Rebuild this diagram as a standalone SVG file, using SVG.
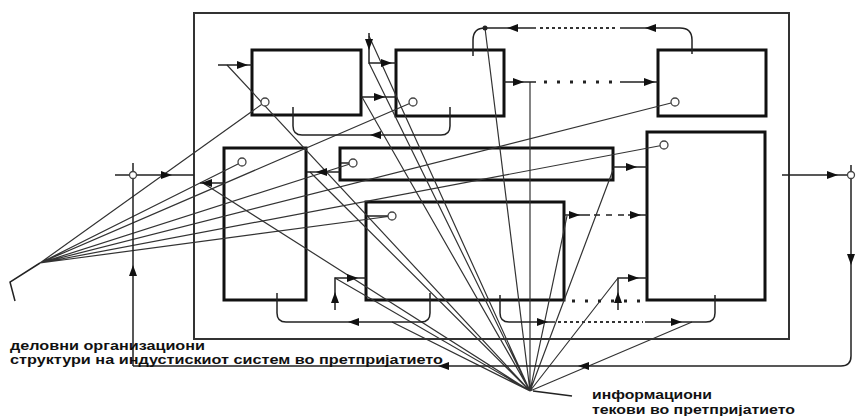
<svg xmlns="http://www.w3.org/2000/svg" xmlns:xlink="http://www.w3.org/1999/xlink" width="859" height="416" viewBox="0 0 859 416">
<style>
.bx{fill:none;stroke:#111;stroke-width:3}
.fr{fill:none;stroke:#333;stroke-width:2}
.ln{fill:none;stroke:#222;stroke-width:1.5}
.fan{fill:none;stroke:#333;stroke-width:1.2}
.dot{fill:none;stroke:#222;stroke-width:3;stroke-dasharray:3 10}
.fdot{fill:none;stroke:#333;stroke-width:2;stroke-dasharray:3 3}
.dsh{fill:none;stroke:#222;stroke-width:1.5;stroke-dasharray:6 6}
.c{fill:#fff;stroke:#444;stroke-width:1.3}
.ah{fill:#111}
text{font-family:"Liberation Sans",Arial,sans-serif;font-weight:bold;font-size:13.5px;fill:#111}
.sm{font-size:12px}
</style>
<defs>
<path id="ah" class="ah" d="M0 0 L-11 -4 L-11 4 Z"/>
</defs>
<rect width="859" height="416" fill="#fff"/>
<g id="frame"><rect class="fr" x="194" y="13" width="595" height="326"/></g>
<g id="boxA"><rect class="bx" x="252" y="50" width="109" height="65"/></g>
<g id="boxB"><rect class="bx" x="396" y="50" width="108" height="66"/></g>
<g id="boxC"><rect class="bx" x="658" y="50" width="108" height="66"/></g>
<g id="boxD"><rect class="bx" x="224" y="148" width="82" height="152"/></g>
<g id="boxE"><rect class="bx" x="340" y="148" width="273" height="32"/></g>
<g id="boxF"><rect class="bx" x="366" y="202" width="198" height="98"/></g>
<g id="boxG"><rect class="bx" x="647" y="132" width="118" height="168"/></g>
<g id="connectors">
<!-- fan of organisational structures -->
<path class="fan" d="M40 263 L265 102 M40 263 L242 162 M40 263 L413 102 M40 263 L353 163 M40 263 L675 102 M40 263 L664 145 M40 263 L392 216"/>
<path class="ln" d="M40 263 L10 282 L15 301"/>
<!-- fan of information flows -->
<path class="fan" d="M530 391 L227 65 M530 391 L203 183 M530 391 L310 172 M530 391 L369 36 M530 391 L369 63 M530 391 L362 97 M530 391 L335 278 M530 391 L392 322 M530 391 L485 28 M530 391 L530 82 M530 391 L567 216 M530 391 L613 170 M530 391 L618 278 M530 391 L692 322"/>
<path class="ln" d="M533 391 L572 396"/>
<!-- input / output -->
<path class="ln" d="M115 175 H194 M133 163 V366 M782 175 H847 M851 165 V356 Q851 366 841 366 H133"/>
<use xlink:href="#ah" transform="translate(172 175)"/>
<use xlink:href="#ah" transform="translate(838 175)"/>
<use xlink:href="#ah" transform="translate(851 265) rotate(90)"/>
<use xlink:href="#ah" transform="translate(438 366) rotate(180)"/>
<use xlink:href="#ah" transform="translate(578 366) rotate(180)"/>
<use xlink:href="#ah" transform="translate(133 265) rotate(-90)"/>
<!-- top row -->
<path class="ln" d="M218 65 H252"/>
<use xlink:href="#ah" transform="translate(248 65)"/>
<path class="ln" d="M369 33 V63 H396"/>
<use xlink:href="#ah" transform="translate(369 50) rotate(90)"/>
<use xlink:href="#ah" transform="translate(392 63)"/>
<path class="ln" d="M361 97 H396"/>
<use xlink:href="#ah" transform="translate(385 97)"/>
<path class="ln" d="M504 82 H536 M620 82 H658"/>
<path class="dot" d="M544 82 H616"/>
<use xlink:href="#ah" transform="translate(524 82)"/>
<use xlink:href="#ah" transform="translate(655 82)"/>
<path class="ln" d="M473 56 V40 Q473 28 485 28 H536 M620 28 H680 Q692 28 692 40 V54"/>
<path class="fdot" d="M540 28 H618"/>
<use xlink:href="#ah" transform="translate(507 28) rotate(180)"/>
<use xlink:href="#ah" transform="translate(645 28) rotate(180)"/>
<circle cx="485" cy="28" r="2.5" fill="#222"/>
<path class="ln" d="M450 107 V126 Q450 135 441 135 H302 Q293 135 293 126 V107"/>
<use xlink:href="#ah" transform="translate(370 135) rotate(180)"/>
<!-- middle -->
<path class="ln" d="M224 183 H200"/>
<use xlink:href="#ah" transform="translate(201 183) rotate(180)"/>
<path class="ln" d="M340 172 H307"/>
<use xlink:href="#ah" transform="translate(316 172) rotate(180)"/>
<path class="ln" d="M613 167 H647"/>
<use xlink:href="#ah" transform="translate(637 167)"/>
<path class="ln" d="M564 215 H590 M628 215 H647"/>
<path class="dsh" d="M594 215 H626"/>
<use xlink:href="#ah" transform="translate(580 215)"/>
<use xlink:href="#ah" transform="translate(641 215)"/>
<!-- lower -->
<path class="ln" d="M335 310 V278 H366"/>
<use xlink:href="#ah" transform="translate(335 292) rotate(-90)"/>
<use xlink:href="#ah" transform="translate(358 278)"/>
<path class="ln" d="M618 310 V278 H647"/>
<use xlink:href="#ah" transform="translate(618 292) rotate(-90)"/>
<use xlink:href="#ah" transform="translate(639 278)"/>
<path class="dot" d="M572 301 H644"/>
<path class="ln" d="M430 293 V313 Q430 322 421 322 H286 Q277 322 277 313 V293"/>
<use xlink:href="#ah" transform="translate(348 322) rotate(180)"/>
<path class="ln" d="M500 295 V313 Q500 322 509 322 H555 M645 322 H706 Q715 322 715 313 V295"/>
<path class="fdot" d="M558 322 H643"/>
<use xlink:href="#ah" transform="translate(548 322)"/>
<use xlink:href="#ah" transform="translate(682 322)"/>
<!-- small circles -->
<path class="ln" d="M366 216 H388 M341 163 H349"/>
<circle class="c" cx="265" cy="102" r="4"/>
<circle class="c" cx="413" cy="102" r="4"/>
<circle class="c" cx="675" cy="102" r="4"/>
<circle class="c" cx="242" cy="162" r="4"/>
<circle class="c" cx="353" cy="163" r="4"/>
<circle class="c" cx="392" cy="216" r="4"/>
<circle class="c" cx="664" cy="145" r="4"/>
</g>
<g id="nodeIn"><circle class="c" cx="133" cy="175" r="3.5"/></g>
<g id="nodeOut"><circle class="c" cx="851" cy="175" r="3.5"/></g>
<g id="labelOrg">
<text class="sm" x="10" y="350" textLength="195" lengthAdjust="spacingAndGlyphs">деловни организациони</text>
<text class="sm" x="10" y="364" textLength="433" lengthAdjust="spacingAndGlyphs">структури на индустискиот систем во претпријатието</text>
</g>
<g id="labelInfo">
<text x="592" y="399" textLength="120" lengthAdjust="spacingAndGlyphs">информациони</text>
<text x="592" y="414" textLength="203" lengthAdjust="spacingAndGlyphs">текови во претпријатието</text>
</g>
</svg>
